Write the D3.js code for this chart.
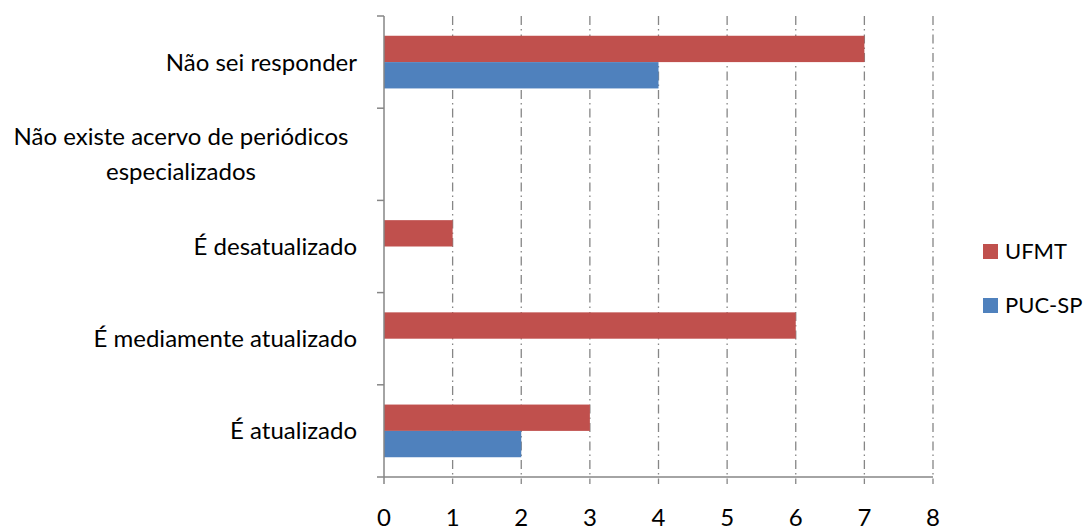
<!DOCTYPE html>
<html>
<head>
<meta charset="utf-8">
<script src="https://cdn.jsdelivr.net/npm/d3@7"></script>
<style>
  body { margin: 0; background: #fff; }
  text { font-family: Lato, "Open Sans", sans-serif; fill: #000; }
</style>
</head>
<body>
<svg id="chart"></svg>
<script>
  // data
  const categories = ["Não sei responder",
                      "Não existe acervo de periódicos especializados",
                      "É desatualizado",
                      "É mediamente atualizado",
                      "É atualizado"]
  const categoryLines = [["Não sei responder"],
                         ["Não existe acervo de periódicos", "especializados"],
                         ["É desatualizado"],
                         ["É mediamente atualizado"],
                         ["É atualizado"]]
  const series = ["UFMT", "PUC-SP"]
  const ufmt = [7, 0, 1, 6, 3]
  const pucsp = [4, 0, 0, 0, 2]
  const xTicks = [0, 1, 2, 3, 4, 5, 6, 7, 8]

  const colors = {"UFMT": "#C0504D", "PUC-SP": "#4F81BD"}

  const W = 1084, H = 530
  const plot = {left: 384, right: 933, top: 16, bottom: 477}

  const svg = d3.select("#chart").attr("width", W).attr("height", H)

  const x = d3.scaleLinear().domain([0, 8]).range([plot.left, plot.right])
  const y = d3.scaleBand().domain(categories).range([plot.top, plot.bottom])
  const inner = d3.scaleBand().domain(series)
    .range([0, y.bandwidth()]).paddingOuter(0.75)

  // gridlines (dash-dot)
  svg.append("g")
    .selectAll("line")
    .data(xTicks.filter(d => d > 0))
    .join("line")
      .attr("x1", d => x(d)).attr("x2", d => x(d))
      .attr("y1", plot.top).attr("y2", plot.bottom + 7)
      .attr("stroke", "#868686")
      .attr("stroke-width", 1.3)
      .attr("stroke-dasharray", "9,4,1.5,4")

  // bars
  const rows = categories.map((c, i) => ({cat: c, vals: [ufmt[i], pucsp[i]]}))
  const grp = svg.append("g").selectAll("g")
    .data(rows)
    .join("g")
      .attr("transform", d => `translate(0,${y(d.cat)})`)
  grp.selectAll("rect")
    .data(d => d.vals.map((v, j) => ({s: series[j], v})).filter(e => e.v > 0))
    .join("rect")
      .attr("x", x(0))
      .attr("y", d => inner(d.s))
      .attr("width", d => x(d.v) - x(0))
      .attr("height", inner.bandwidth())
      .attr("fill", d => colors[d.s])

  // y axis
  const yAxis = svg.append("g")
  yAxis.append("line")
    .attr("x1", plot.left).attr("x2", plot.left)
    .attr("y1", plot.top).attr("y2", plot.bottom + 7)
    .attr("stroke", "#868686").attr("stroke-width", 1.5)
  const yTickPos = categories.map(c => y(c)).concat([plot.bottom])
  yAxis.selectAll(".yt")
    .data(yTickPos)
    .join("line")
      .attr("class", "yt")
      .attr("x1", plot.left - 7).attr("x2", plot.left)
      .attr("y1", d => d).attr("y2", d => d)
      .attr("stroke", "#868686").attr("stroke-width", 1.5)

  // x axis
  const xAxis = svg.append("g")
  xAxis.append("line")
    .attr("x1", plot.left).attr("x2", plot.right)
    .attr("y1", plot.bottom).attr("y2", plot.bottom)
    .attr("stroke", "#868686").attr("stroke-width", 1.5)
  xAxis.selectAll("text")
    .data(xTicks)
    .join("text")
      .attr("x", d => x(d))
      .attr("y", 526)
      .attr("text-anchor", "middle")
      .style("font-size", "24px")
      .text(d => d)

  // category labels
  const lab = svg.append("g").selectAll("text")
    .data(categories.map((c, i) => ({cat: c, lines: categoryLines[i]})))
    .join("text")
      .style("font-size", "24px")
      .attr("text-anchor", d => d.lines.length > 1 ? "middle" : "end")
      .attr("x", d => d.lines.length > 1 ? 181 : 357)
      .attr("y", d => y(d.cat) + y.bandwidth() / 2 - (d.lines.length - 1) * 17.5)
  lab.selectAll("tspan")
    .data(d => d.lines)
    .join("tspan")
      .attr("x", function() { return this.parentNode.getAttribute("x") })
      .attr("dy", (d, i) => i === 0 ? "0.35em" : 35)
      .text(d => d)

  // legend
  const leg = svg.append("g").selectAll("g")
    .data(series)
    .join("g")
      .attr("transform", (d, i) => `translate(983,${244 + i * 54})`)
  leg.append("rect")
    .attr("width", 15).attr("height", 15)
    .attr("fill", d => colors[d])
  leg.append("text")
    .attr("x", 22).attr("y", 7.5).attr("dy", "0.35em")
    .style("font-size", "22px")
    .text(d => d)
</script>
</body>
</html>
